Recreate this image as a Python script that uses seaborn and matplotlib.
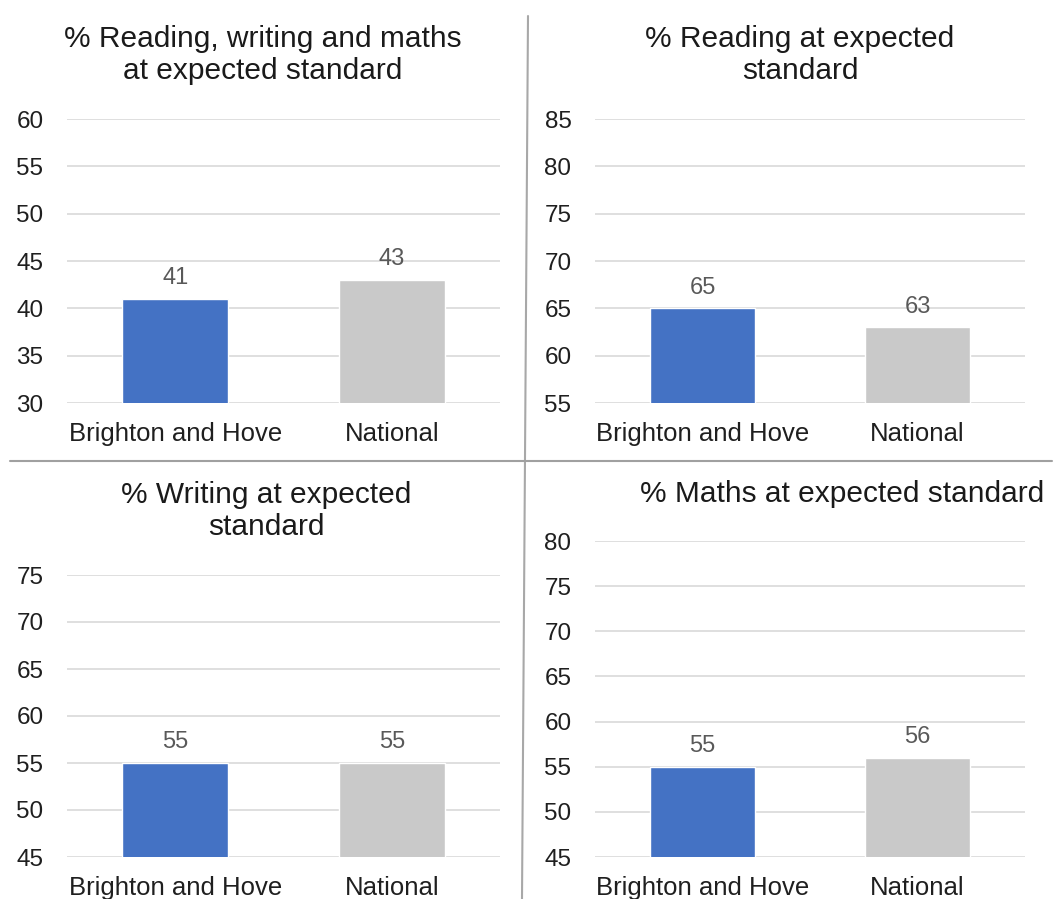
import matplotlib
matplotlib.use("Agg")
import matplotlib.pyplot as plt
from matplotlib.lines import Line2D
import seaborn as sns
import pandas as pd

# Key Stage 2 attainment: Brighton and Hove vs National
categories = ["Brighton and Hove", "National"]
rwm_values = [41, 43]
reading_values = [65, 63]
writing_values = [55, 55]
maths_values = [55, 56]

titles = [
    "% Reading, writing and maths\nat expected standard",
    "% Reading at expected\nstandard",
    "% Writing at expected\nstandard",
    "% Maths at expected standard",
]
y_ranges = [(30, 60), (55, 85), (45, 75), (45, 80)]
y_ticks = [
    [30, 35, 40, 45, 50, 55, 60],
    [55, 60, 65, 70, 75, 80, 85],
    [45, 50, 55, 60, 65, 70, 75],
    [45, 50, 55, 60, 65, 70, 75, 80],
]

BLUE = "#4472C4"
GREY = "#C9C9C9"

sns.set_theme(style="white")
plt.rcParams["font.family"] = ["Liberation Sans", "DejaVu Sans"]

W, H = 1058, 899
fig = plt.figure(figsize=(W / 100, H / 100), dpi=100)
fig.patch.set_facecolor("white")

# panel frames in pixels: left, right, top, bottom
frames = [(67, 500, 119, 403), (595, 1025, 119, 403),
          (67, 500, 575, 857), (595, 1025, 541, 857)]
title_pos = [(263, 55), (800, 55), (266, 511), (842, 494)]
series = [rwm_values, reading_values, writing_values, maths_values]

for i in range(4):
    l, r, t, b = frames[i]
    ax = fig.add_axes([l / W, (H - b) / H, (r - l) / W, (b - t) / H])
    df = pd.DataFrame({"area": categories, "pct": series[i]})
    sns.barplot(data=df, x="area", y="pct", hue="area",
                palette=[BLUE, GREY], width=0.49, saturation=1,
                legend=False, ax=ax, zorder=3)
    ax.set_ylim(*y_ranges[i])
    ax.set_yticks(y_ticks[i])
    ax.set_xlim(-0.5, 1.5)
    ax.yaxis.grid(True, color="#DCDCDC", linewidth=1.3, zorder=0)
    ax.set_axisbelow(True)
    for s in ax.spines.values():
        s.set_visible(False)
    ax.set_xlabel("")
    ax.set_ylabel("")
    ax.tick_params(axis="y", length=0, pad=17, labelsize=17.5, labelcolor="#1F1F1F")
    ax.tick_params(axis="x", length=0, pad=14, labelsize=18.5, labelcolor="#1F1F1F")
    for cont in ax.containers:
        ax.bar_label(cont, fmt="%d", padding=7, fontsize=17, color="#595959")
    tx, ty = title_pos[i]
    fig.text(tx / W, 1 - ty / H, titles[i], ha="center", va="center",
             fontsize=21.5, color="#1A1A1A", linespacing=1.22)

# dividers between the four panels
fig.add_artist(Line2D([528 / W, 522 / W], [1 - 16 / H, 0], color="#A8A8A8", linewidth=1.5))
fig.add_artist(Line2D([10 / W, 1052 / W], [1 - 461 / H, 1 - 461 / H], color="#A0A0A0", linewidth=1.5))

fig.savefig("out.png", dpi=100, facecolor="white")
